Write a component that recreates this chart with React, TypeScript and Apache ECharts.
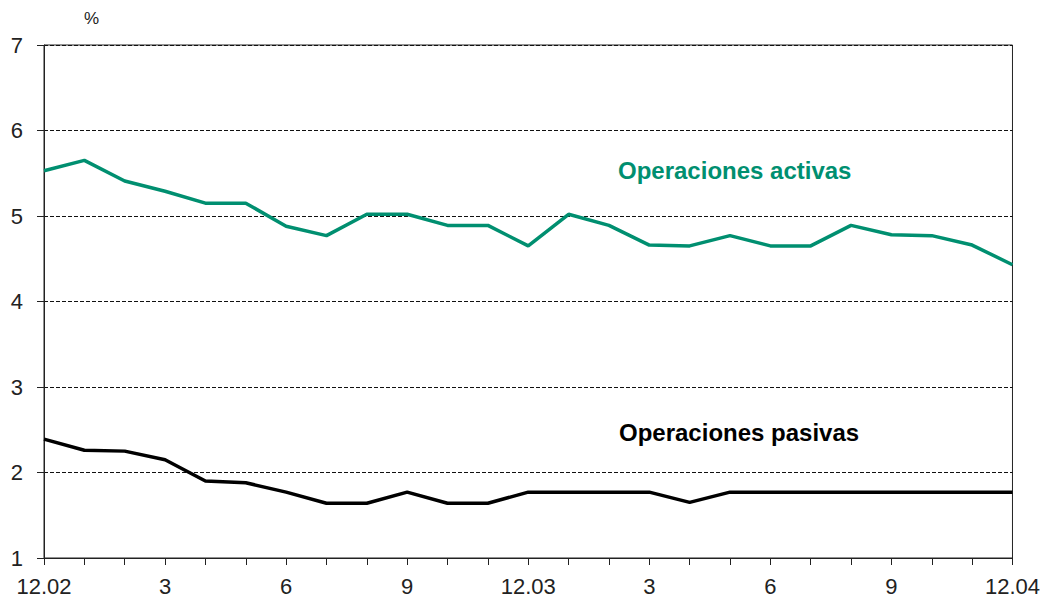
import React, { useEffect, useRef } from "react";
import * as echarts from "echarts";

const months = [
  "2002-12", "2003-01", "2003-02", "2003-03", "2003-04", "2003-05", "2003-06",
  "2003-07", "2003-08", "2003-09", "2003-10", "2003-11", "2003-12", "2004-01",
  "2004-02", "2004-03", "2004-04", "2004-05", "2004-06", "2004-07", "2004-08",
  "2004-09", "2004-10", "2004-11", "2004-12",
];

const activas = [
  5.53, 5.65, 5.41, 5.29, 5.15, 5.15, 4.88, 4.77, 5.02, 5.02, 4.89, 4.89, 4.65,
  5.02, 4.89, 4.66, 4.65, 4.77, 4.65, 4.65, 4.89, 4.78, 4.77, 4.66, 4.43,
];

const pasivas = [
  2.39, 2.26, 2.25, 2.15, 1.9, 1.88, 1.77, 1.64, 1.64, 1.77, 1.64, 1.64, 1.77,
  1.77, 1.77, 1.77, 1.65, 1.77, 1.77, 1.77, 1.77, 1.77, 1.77, 1.77, 1.77,
];

const seriesNames = ["Operaciones activas", "Operaciones pasivas"];
const yUnit = "%";

const GREEN = "#008f70";
const FONT = "'Liberation Sans', Arial, Helvetica, sans-serif";

function monthLabel(v: string): string {
  const [y, m] = v.split("-");
  const mi = parseInt(m, 10);
  if (mi === 12) return "12." + y.slice(2);
  return String(mi);
}

export default function App() {
  const ref = useRef<HTMLDivElement>(null);
  useEffect(() => {
    if (!ref.current) return;
    const chart = echarts.init(ref.current, undefined, { renderer: "svg" });
    chart.setOption({
      animation: false,
      grid: {
        left: 44,
        right: 23,
        top: 45,
        bottom: 45,
        show: true,
        borderColor: "#222",
        borderWidth: 1,
      },
      xAxis: {
        type: "category",
        data: months,
        boundaryGap: false,
        axisLine: { lineStyle: { color: "#222", width: 1 } },
        axisTick: { show: true, interval: 0, length: 7, lineStyle: { color: "#222" } },
        axisLabel: {
          interval: 2,
          formatter: (v: string) => monthLabel(v),
          color: "#222",
          fontSize: 22,
          fontFamily: FONT,
          margin: 17,
        },
        splitLine: { show: false },
      },
      yAxis: {
        type: "value",
        min: 1,
        max: 7,
        interval: 1,
        axisLine: { show: true, lineStyle: { color: "#222", width: 1 } },
        axisTick: { show: true, length: 7, lineStyle: { color: "#222" } },
        axisLabel: {
          color: "#222",
          fontSize: 22,
          fontFamily: FONT,
          margin: 21,
        },
        splitLine: {
          show: true,
          lineStyle: { color: "#111", type: [4, 2], width: 1 },
        },
      },
      graphic: [
        {
          type: "text",
          left: 84,
          top: 10,
          style: { text: yUnit, fontSize: 17, fontFamily: FONT, fill: "#222" },
        },
        {
          type: "text",
          left: 618,
          top: 158,
          style: {
            text: seriesNames[0],
            fontSize: 24,
            fontWeight: "bold",
            fontFamily: FONT,
            fill: GREEN,
          },
        },
        {
          type: "text",
          left: 619,
          top: 420,
          style: {
            text: seriesNames[1],
            fontSize: 24,
            fontWeight: "bold",
            fontFamily: FONT,
            fill: "#000",
          },
        },
      ],
      series: [
        {
          name: seriesNames[0],
          type: "line",
          data: activas,
          symbol: "none",
          lineStyle: { color: GREEN, width: 3.5 },
        },
        {
          name: seriesNames[1],
          type: "line",
          data: pasivas,
          symbol: "none",
          lineStyle: { color: "#000", width: 3.5 },
        },
      ],
    });
    return () => chart.dispose();
  }, []);
  return <div ref={ref} style={{ width: 1043, height: 603, position: "absolute", left: 0, top: 0 }} />;
}
